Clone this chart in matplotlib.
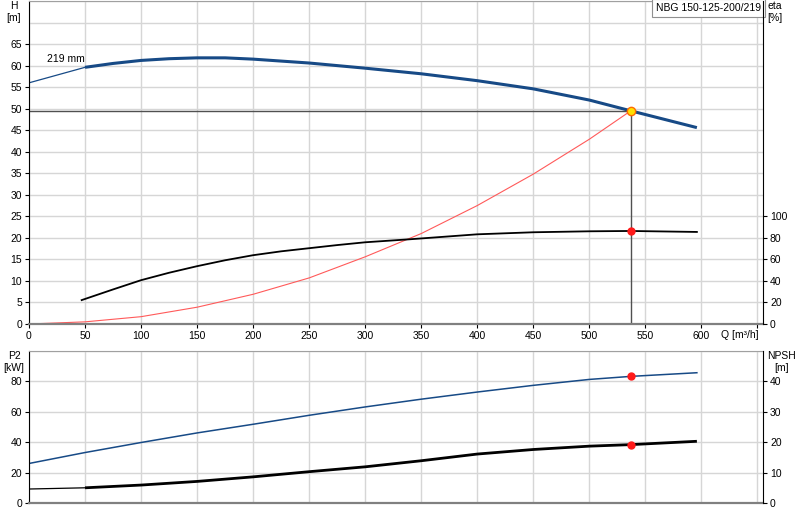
import matplotlib.pyplot as plt

plt.rcParams['font.family'] = ['Liberation Sans', 'DejaVu Sans']
plt.rcParams['font.size'] = 7.5

# flow points (m3/h)
q_h = [0, 50, 75, 100, 125, 150, 175, 200, 250, 300, 350, 400, 450, 500, 537, 596]
head = [56.0, 59.6, 60.5, 61.2, 61.6, 61.8, 61.8, 61.5, 60.6, 59.4, 58.1, 56.5, 54.6,
        52.0, 49.5, 45.6]

q_eta = [47, 75, 100, 125, 150, 175, 200, 225, 250, 275, 300, 340, 400, 450, 500, 537, 596]
eta = [22.2, 32.1, 40.7, 47.6, 53.7, 59.2, 63.9, 67.5, 70.4, 73.3, 75.9, 78.7, 83.3, 85.2,
       86.1, 86.4, 85.5]

q_sys = [0, 50, 100, 150, 200, 250, 300, 350, 400, 450, 500, 537]
h_sys = [0, 0.5, 1.7, 3.9, 6.9, 10.7, 15.6, 21.0, 27.5, 34.8, 42.9, 49.5]

q_p = [0, 50, 100, 150, 200, 250, 300, 350, 400, 450, 500, 537, 596]
p2 = [26.0, 33.2, 39.8, 46.1, 51.8, 57.7, 63.2, 68.3, 73.0, 77.4, 81.3, 83.3, 85.7]
npsh = [4.6, 5.0, 5.9, 7.1, 8.6, 10.3, 11.9, 13.9, 16.1, 17.6, 18.7, 19.2, 20.3]

q_op = 537
h_op = 49.5
eta_op = 86.4
p2_op = 83.3
npsh_op = 19.2

blue = '#174a86'
grid_c = '#d6d6d6'

fig = plt.figure(figsize=(8, 5.2), dpi=100)
ax1 = fig.add_axes([29 / 800, 1 - 324 / 520, 734 / 800, 323 / 520])
ax2 = fig.add_axes([29 / 800, 1 - 503 / 520, 734 / 800, 152 / 520])

for ax in (ax1, ax2):
    ax.set_xlim(0, 655)
    ax.set_xticks(range(0, 651, 50))
    ax.grid(True, which='both', color=grid_c, lw=1)
    ax.set_axisbelow(True)
    ax.tick_params(length=3, width=0.8, pad=2, colors='black')
    ax.tick_params(which='minor', length=0)
    ax.spines['left'].set_color('black')
    ax.spines['right'].set_visible(False)
    ax.spines['top'].set_color('#a0a0a0')
    ax.spines['bottom'].set_color('#808080')
    ax.spines['bottom'].set_linewidth(1.6)

# top panel: head / efficiency
ax1.set_ylim(0, 75)
ax1.set_yticks(range(0, 66, 5))
ax1.set_yticks([70, 75], minor=True)
ax1.set_xticklabels([str(v) for v in range(0, 601, 50)] + [''])

ax1.plot(q_h[:2], head[:2], color=blue, lw=0.9)
ax1.plot(q_h[1:], head[1:], color=blue, lw=2.2, solid_capstyle='butt')
ax1.plot(q_sys, h_sys, color='#ff5a5a', lw=0.8)
ax1.plot([0, q_op], [h_op, h_op], color='#505050', lw=1)
ax1.plot([q_op, q_op], [0, h_op], color='#505050', lw=1)
ax1.plot(q_op, h_op, 'o', ms=6, mfc='#ffe000', mec='#ff6a00', mew=1, zorder=5)
ax1.text(16, 61.5, '219 mm', ha='left', va='center')

ax1r = ax1.twinx()
ax1r.set_ylim(0, 300)
ax1r.set_yticks(range(0, 101, 20))
ax1r.tick_params(length=3, width=0.8, pad=2)
for s in ('left', 'top', 'bottom'):
    ax1r.spines[s].set_visible(False)
ax1r.spines['right'].set_color('black')
ax1r.plot(q_eta, eta, color='black', lw=1.3)
ax1r.plot(q_op, eta_op, 'o', ms=5, color='#ff1a1a', zorder=5)

fig.text(14 / 800, 1 - 6 / 520, 'H', ha='center', va='center')
fig.text(14 / 800, 1 - 18 / 520, '[m]', ha='center', va='center')
fig.text(767 / 800, 1 - 6 / 520, 'eta', ha='left', va='center')
fig.text(767 / 800, 1 - 18 / 520, '[%]', ha='left', va='center')
fig.text(721 / 800, 1 - 335 / 520, 'Q [m\u00b3/h]', ha='left', va='center')
ax1.text(0.997, 0.993, 'NBG 150-125-200/219', transform=ax1.transAxes,
         ha='right', va='top', fontsize=7.5,
         bbox=dict(boxstyle='square,pad=0.4', fc='white', ec='#909090', lw=0.8))

# bottom panel: power / NPSH
ax2.set_ylim(0, 100)
ax2.set_yticks(range(0, 81, 20))
ax2.set_yticks([100], minor=True)
ax2.set_xticklabels([])
ax2.tick_params(axis='x', length=0)
ax2.plot(q_p, p2, color=blue, lw=1.1)
ax2.plot(q_op, p2_op, 'o', ms=5, color='#ff1a1a', zorder=5)

ax2r = ax2.twinx()
ax2r.set_ylim(0, 50)
ax2r.set_yticks(range(0, 41, 10))
ax2r.tick_params(length=3, width=0.8, pad=2)
for s in ('left', 'top', 'bottom'):
    ax2r.spines[s].set_visible(False)
ax2r.spines['right'].set_color('black')
ax2r.plot(q_p[:2], npsh[:2], color='black', lw=0.9)
ax2r.plot(q_p[1:], npsh[1:], color='black', lw=2, solid_capstyle='butt')
ax2r.plot(q_op, npsh_op, 'o', ms=5, color='#ff1a1a', zorder=5)

fig.text(14 / 800, 1 - 356 / 520, 'P2', ha='center', va='center')
fig.text(14 / 800, 1 - 368 / 520, '[kW]', ha='center', va='center')
fig.text(782 / 800, 1 - 356 / 520, 'NPSH', ha='center', va='center')
fig.text(782 / 800, 1 - 368 / 520, '[m]', ha='center', va='center')

fig.savefig('out.png', dpi=100)
